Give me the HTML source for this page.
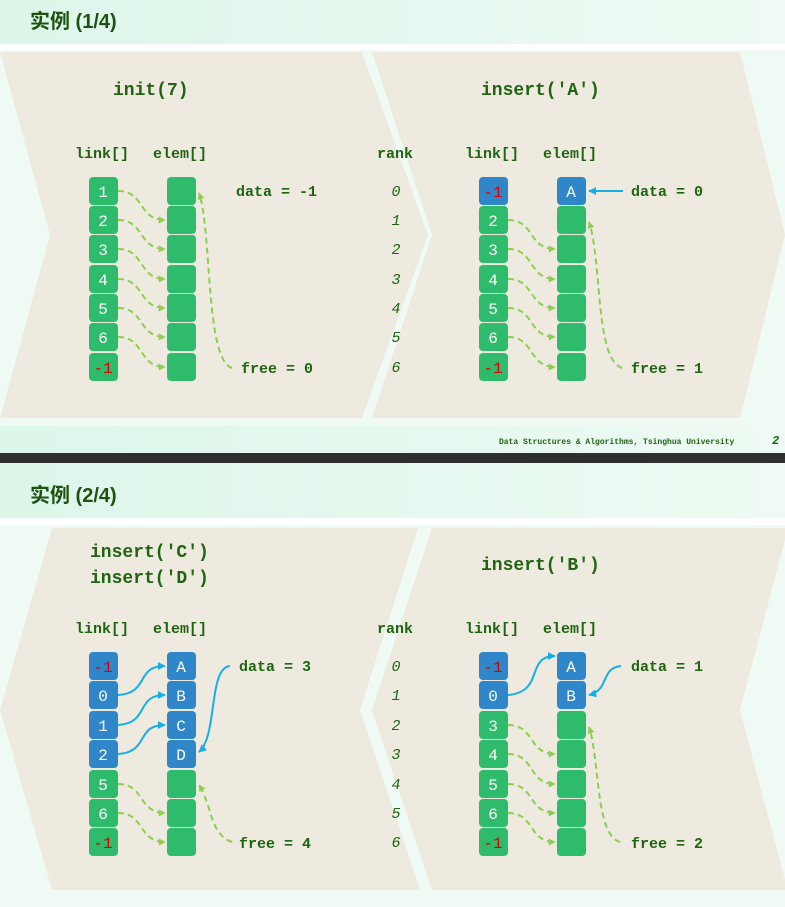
<!DOCTYPE html>
<html><head><meta charset="utf-8"><style>
html,body{margin:0;padding:0;background:#fff}
svg{display:block}
text{font-family:"Liberation Mono",monospace;font-weight:bold;fill:#1f6410}
.t{font-size:18px}
.l{font-size:15px}
.c{font-size:16px;fill:#fff;text-anchor:middle;font-weight:normal}
.r{font-size:15px;font-style:italic;font-weight:normal;text-anchor:middle}
.h{font-family:"Liberation Sans","Noto Sans CJK SC",sans-serif;font-size:20px;fill:#1f5210}
.g{fill:none;stroke:#8ccf4f;stroke-width:2;stroke-dasharray:6 4}
.b{fill:none;stroke:#16aee8;stroke-width:2}
</style></head><body>
<svg width="785" height="907" viewBox="0 0 785 907" xmlns="http://www.w3.org/2000/svg">
<defs>
<linearGradient id="m" x1="0" x2="1"><stop offset="0" stop-color="#dcf6ea"/><stop offset="1" stop-color="#eefaf3"/></linearGradient>
<marker id="ag" viewBox="0 0 10 10" refX="9" refY="5" markerWidth="7" markerHeight="7" orient="auto" markerUnits="userSpaceOnUse"><path d="M0,0 L10,5 L0,10z" fill="#8ccf4f"/></marker>
<marker id="ab" viewBox="0 0 10 10" refX="9" refY="5" markerWidth="8" markerHeight="8" orient="auto" markerUnits="userSpaceOnUse"><path d="M0,0 L10,5 L0,10z" fill="#16aee8"/></marker>
</defs>
<rect width="785" height="907" fill="#f0faf5"/>
<rect x="0" y="0" width="785" height="44" fill="url(#m)"/>
<rect x="0" y="44" width="785" height="6" fill="#fff"/>
<polygon points="0,52 362,52 428,235 362,418 0,418 50,235" fill="#eeeae0"/>
<polygon points="372,52 740,52 785,235 740,418 372,418 432,235" fill="#eeeae0"/>
<rect x="0" y="426" width="785" height="27" fill="url(#m)"/>
<rect x="0" y="453" width="785" height="10" fill="#2f2f2f"/>
<rect x="0" y="463" width="785" height="55" fill="url(#m)"/>
<rect x="0" y="518" width="785" height="7" fill="#fff"/>
<polygon points="52,528 418,528 360,710 420,890 52,890 0,710" fill="#eeeae0"/>
<polygon points="432,528 785,528 785,540 740,710 785,880 785,890 432,890 372,710" fill="#eeeae0"/>

<text class="h" x="30" y="28" font-weight="bold">实例 (1/4)</text>
<text class="h" x="30" y="502" font-weight="bold">实例 (2/4)</text>
<text x="499" y="444" style="font-size:8px">Data Structures &amp; Algorithms, Tsinghua University</text>
<text x="772" y="444" style="font-size:12px;font-style:italic">2</text>

<text class="t" x="113" y="95">init(7)</text>
<text class="t" x="481" y="95">insert('A')</text>
<text class="l" x="75" y="158">link[]</text><text class="l" x="153" y="158">elem[]</text>
<text class="l" x="377" y="158">rank</text>
<text class="l" x="465" y="158">link[]</text><text class="l" x="543" y="158">elem[]</text>
<text class="r" x="396" y="196">0</text><text class="r" x="396" y="225">1</text><text class="r" x="396" y="254">2</text><text class="r" x="396" y="284">3</text><text class="r" x="396" y="313">4</text><text class="r" x="396" y="342">5</text><text class="r" x="396" y="372">6</text>
<text class="l" x="236" y="196">data = -1</text><text class="l" x="241" y="373">free = 0</text>
<text class="l" x="631" y="196">data = 0</text><text class="l" x="631" y="373">free = 1</text>

<g fill="#2fbb6c">
<rect x="89" y="177" width="29" height="28" rx="4"/><rect x="89" y="206" width="29" height="28" rx="4"/><rect x="89" y="235" width="29" height="28" rx="4"/><rect x="89" y="265" width="29" height="28" rx="4"/><rect x="89" y="294" width="29" height="28" rx="4"/><rect x="89" y="323" width="29" height="28" rx="4"/><rect x="89" y="353" width="29" height="28" rx="4"/>
<rect x="167" y="177" width="29" height="28" rx="4"/><rect x="167" y="206" width="29" height="28" rx="4"/><rect x="167" y="235" width="29" height="28" rx="4"/><rect x="167" y="265" width="29" height="28" rx="4"/><rect x="167" y="294" width="29" height="28" rx="4"/><rect x="167" y="323" width="29" height="28" rx="4"/><rect x="167" y="353" width="29" height="28" rx="4"/>
</g>
<text class="c" x="103" y="197">1</text><text class="c" x="103" y="226">2</text><text class="c" x="103" y="255">3</text><text class="c" x="103" y="285">4</text><text class="c" x="103" y="314">5</text><text class="c" x="103" y="343">6</text><text class="c" x="103" y="373" style="fill:#d00">-1</text>
<g class="g" marker-end="url(#ag)">
<path d="M118,191 C145,191 138,220 165,220"/><path d="M118,220 C145,220 138,249 165,249"/><path d="M118,249 C145,249 138,279 165,279"/><path d="M118,279 C145,279 138,308 165,308"/><path d="M118,308 C145,308 138,337 165,337"/><path d="M118,337 C145,337 138,367 165,367"/>
<path d="M232,368 C205,360 212,230 199,193"/>
</g>

<g fill="#2fbb6c">
<rect x="479" y="206" width="29" height="28" rx="4"/><rect x="479" y="235" width="29" height="28" rx="4"/><rect x="479" y="265" width="29" height="28" rx="4"/><rect x="479" y="294" width="29" height="28" rx="4"/><rect x="479" y="323" width="29" height="28" rx="4"/><rect x="479" y="353" width="29" height="28" rx="4"/>
<rect x="557" y="206" width="29" height="28" rx="4"/><rect x="557" y="235" width="29" height="28" rx="4"/><rect x="557" y="265" width="29" height="28" rx="4"/><rect x="557" y="294" width="29" height="28" rx="4"/><rect x="557" y="323" width="29" height="28" rx="4"/><rect x="557" y="353" width="29" height="28" rx="4"/>
</g>
<g fill="#2f86c8"><rect x="479" y="177" width="29" height="28" rx="4"/><rect x="557" y="177" width="29" height="28" rx="4"/></g>
<text class="c" x="493" y="197" style="fill:#d00">-1</text><text class="c" x="493" y="226">2</text><text class="c" x="493" y="255">3</text><text class="c" x="493" y="285">4</text><text class="c" x="493" y="314">5</text><text class="c" x="493" y="343">6</text><text class="c" x="493" y="373" style="fill:#d00">-1</text>
<text class="c" x="571" y="197">A</text>
<g class="g" marker-end="url(#ag)">
<path d="M508,220 C535,220 528,249 555,249"/><path d="M508,249 C535,249 528,279 555,279"/><path d="M508,279 C535,279 528,308 555,308"/><path d="M508,308 C535,308 528,337 555,337"/><path d="M508,337 C535,337 528,367 555,367"/>
<path d="M622,368 C595,360 602,260 589,222"/>
</g>
<path class="b" d="M623,191 L589,191" marker-end="url(#ab)"/>

<text class="t" x="90" y="557">insert('C')</text>
<text class="t" x="90" y="583">insert('D')</text>
<text class="t" x="481" y="570">insert('B')</text>
<text class="l" x="75" y="633">link[]</text><text class="l" x="153" y="633">elem[]</text>
<text class="l" x="377" y="633">rank</text>
<text class="l" x="465" y="633">link[]</text><text class="l" x="543" y="633">elem[]</text>
<text class="r" x="396" y="671">0</text><text class="r" x="396" y="700">1</text><text class="r" x="396" y="730">2</text><text class="r" x="396" y="759">3</text><text class="r" x="396" y="789">4</text><text class="r" x="396" y="818">5</text><text class="r" x="396" y="847">6</text>
<text class="l" x="239" y="671">data = 3</text><text class="l" x="239" y="848">free = 4</text>
<text class="l" x="631" y="671">data = 1</text><text class="l" x="631" y="848">free = 2</text>

<g fill="#2f86c8">
<rect x="89" y="652" width="29" height="28" rx="4"/><rect x="89" y="681" width="29" height="28" rx="4"/><rect x="89" y="711" width="29" height="28" rx="4"/><rect x="89" y="740" width="29" height="28" rx="4"/>
<rect x="167" y="652" width="29" height="28" rx="4"/><rect x="167" y="681" width="29" height="28" rx="4"/><rect x="167" y="711" width="29" height="28" rx="4"/><rect x="167" y="740" width="29" height="28" rx="4"/>
</g>
<g fill="#2fbb6c">
<rect x="89" y="770" width="29" height="28" rx="4"/><rect x="89" y="799" width="29" height="28" rx="4"/><rect x="89" y="828" width="29" height="28" rx="4"/>
<rect x="167" y="770" width="29" height="28" rx="4"/><rect x="167" y="799" width="29" height="28" rx="4"/><rect x="167" y="828" width="29" height="28" rx="4"/>
</g>
<text class="c" x="103" y="672" style="fill:#d00">-1</text><text class="c" x="103" y="701">0</text><text class="c" x="103" y="731">1</text><text class="c" x="103" y="760">2</text><text class="c" x="103" y="790">5</text><text class="c" x="103" y="819">6</text><text class="c" x="103" y="848" style="fill:#d00">-1</text>
<text class="c" x="181" y="672">A</text><text class="c" x="181" y="701">B</text><text class="c" x="181" y="731">C</text><text class="c" x="181" y="760">D</text>
<g class="b" marker-end="url(#ab)">
<path d="M118,695 C150,693 135,666 165,666"/><path d="M118,725 C150,723 135,695 165,695"/><path d="M118,754 C150,752 135,725 165,725"/>
<path d="M230,666 C208,668 218,735 199,752"/>
</g>
<g class="g" marker-end="url(#ag)">
<path d="M118,784 C145,784 138,813 165,813"/><path d="M118,813 C145,813 138,842 165,842"/>
<path d="M232,842 C210,835 212,805 199,785"/>
</g>

<g fill="#2f86c8">
<rect x="479" y="652" width="29" height="28" rx="4"/><rect x="479" y="681" width="29" height="28" rx="4"/>
<rect x="557" y="652" width="29" height="28" rx="4"/><rect x="557" y="681" width="29" height="28" rx="4"/>
</g>
<g fill="#2fbb6c">
<rect x="479" y="711" width="29" height="28" rx="4"/><rect x="479" y="740" width="29" height="28" rx="4"/><rect x="479" y="770" width="29" height="28" rx="4"/><rect x="479" y="799" width="29" height="28" rx="4"/><rect x="479" y="828" width="29" height="28" rx="4"/>
<rect x="557" y="711" width="29" height="28" rx="4"/><rect x="557" y="740" width="29" height="28" rx="4"/><rect x="557" y="770" width="29" height="28" rx="4"/><rect x="557" y="799" width="29" height="28" rx="4"/><rect x="557" y="828" width="29" height="28" rx="4"/>
</g>
<text class="c" x="493" y="672" style="fill:#d00">-1</text><text class="c" x="493" y="701">0</text><text class="c" x="493" y="731">3</text><text class="c" x="493" y="760">4</text><text class="c" x="493" y="790">5</text><text class="c" x="493" y="819">6</text><text class="c" x="493" y="848" style="fill:#d00">-1</text>
<text class="c" x="571" y="672">A</text><text class="c" x="571" y="701">B</text>
<g class="b" marker-end="url(#ab)">
<path d="M508,695 C545,692 525,656 555,656"/>
<path d="M621,666 C600,668 610,690 589,695"/>
</g>
<g class="g" marker-end="url(#ag)">
<path d="M508,725 C535,725 528,754 555,754"/><path d="M508,754 C535,754 528,784 555,784"/><path d="M508,784 C535,784 528,813 555,813"/><path d="M508,813 C535,813 528,842 555,842"/>
<path d="M620,842 C595,835 600,760 589,727"/>
</g>
</svg>
</body></html>
